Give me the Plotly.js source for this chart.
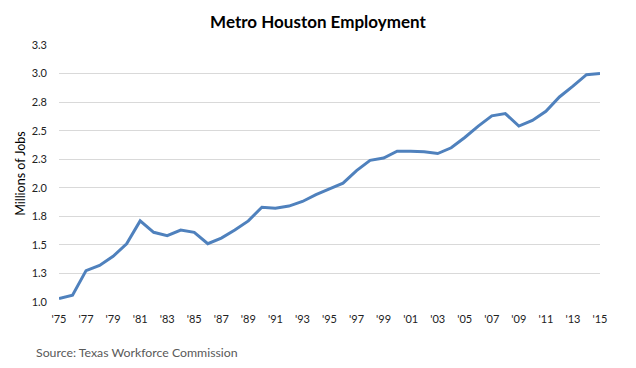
<!DOCTYPE html>
<html>
<head>
<meta charset="utf-8">
<script src="https://cdn.plot.ly/plotly-3.0.1.min.js"></script>
<style>html,body{margin:0;padding:0;background:#fff;}#chart{width:636px;height:368px;}</style>
</head>
<body>
<div id="chart"></div>
<script>
const years = [1975,1976,1977,1978,1979,1980,1981,1982,1983,1984,1985,1986,1987,1988,1989,1990,1991,1992,1993,1994,1995,1996,1997,1998,1999,2000,2001,2002,2003,2004,2005,2006,2007,2008,2009,2010,2011,2012,2013,2014,2015];
const jobs = [1.03,1.06,1.275,1.32,1.40,1.51,1.71,1.61,1.58,1.63,1.61,1.51,1.56,1.63,1.71,1.83,1.82,1.84,1.88,1.94,1.99,2.04,2.15,2.24,2.26,2.32,2.32,2.316,2.30,2.35,2.44,2.54,2.63,2.65,2.54,2.59,2.67,2.795,2.89,2.99,3.00];
const xTickVals = [1975,1977,1979,1981,1983,1985,1987,1989,1991,1993,1995,1997,1999,2001,2003,2005,2007,2009,2011,2013,2015];
const xTickText = ["'75","'77","'79","'81","'83","'85","'87","'89","'91","'93","'95","'97","'99","'01","'03","'05","'07","'09","'11","'13","'15"];
const yTickVals = [1.0,1.25,1.5,1.75,2.0,2.25,2.5,2.75,3.0,3.25];
const yTickText = ["1.0","1.3","1.5","1.8","2.0","2.3","2.5","2.8","3.0","3.3"];

const font = "Lato, 'Open Sans', sans-serif";
Plotly.newPlot('chart', [{
  x: years, y: jobs, type: 'scatter', mode: 'lines',
  line: {color: '#4f81bd', width: 3}, hoverinfo: 'skip'
}], {
  width: 636, height: 368,
  margin: {l: 59, r: 36, t: 45, b: 66},
  paper_bgcolor: '#fff', plot_bgcolor: '#fff',
  showlegend: false,
  font: {family: font, color: '#000', size: 11},
  title: {text: '<b>Metro Houston Employment</b>', x: 0.5, xanchor: 'center', y: 0.94, yanchor: 'middle',
          font: {family: font, size: 17, color: '#000'}},
  xaxis: {range: [1975, 2015], tickvals: xTickVals, ticktext: xTickText, showgrid: false,
          zeroline: false, showline: false, ticks: '', ticklabelstandoff: 9, tickfont: {size: 11, color: '#222'}, fixedrange: true},
  yaxis: {range: [1.0, 3.25], tickvals: yTickVals, ticktext: yTickText, showgrid: true, gridcolor: '#d9d9d9', gridwidth: 1,
          zeroline: false, showline: false, ticks: '', ticklabelstandoff: 11, tickfont: {size: 11, color: '#222'},
          title: {text: 'Millions of Jobs', font: {size: 12.5, color: '#000'}, standoff: 3}, fixedrange: true},
  annotations: [{text: 'Source: Texas Workforce Commission', xref: 'paper', yref: 'paper',
                 x: -0.046, y: -0.195, xanchor: 'left', yanchor: 'middle', showarrow: false,
                 font: {family: font, size: 12.3, color: '#595959'}}]
}, {displayModeBar: false, staticPlot: true});
</script>
</body>
</html>
